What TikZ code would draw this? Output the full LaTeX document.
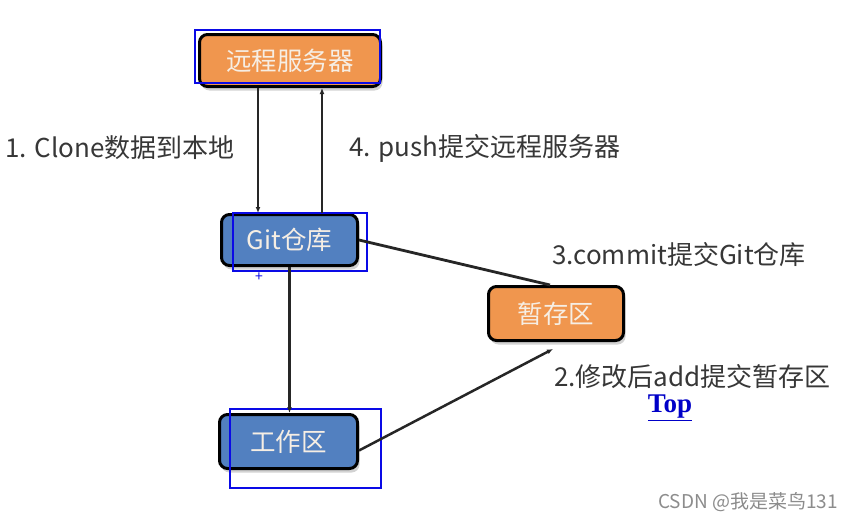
\documentclass[tikz,border=0pt]{standalone}
\usepackage{fontspec}
\setmainfont{Noto Sans CJK SC}
\newfontfamily\topfont{Liberation Serif}
\usetikzlibrary{arrows.meta,shadows}
\definecolor{boxorange}{RGB}{240,150,78}
\definecolor{boxblue}{RGB}{82,128,192}
\definecolor{labgray}{RGB}{55,55,55}
\definecolor{boxtext}{RGB}{246,238,228}
\definecolor{hlblue}{RGB}{10,10,230}
\definecolor{linkblue}{RGB}{0,0,200}
\tikzset{
  stagebox/.style={draw=black, line width=3pt, rounded corners=8pt, inner sep=0pt,
    text=boxtext, font=\fontsize{25.5}{28}\selectfont,
    drop shadow={shadow xshift=2pt, shadow yshift=-4pt, opacity=0.35, fill=gray}},
  orangebox/.style={stagebox, fill=boxorange},
  bluebox/.style={stagebox, fill=boxblue},
  hlbox/.style={draw=hlblue, line width=2pt, inner sep=0pt, fill=none},
  lab/.style={anchor=west, inner sep=0pt, text=labgray, font=\fontsize{26}{28}\selectfont},
  conn/.style={draw=black!85, line width=2.2pt},
  arr/.style={conn, -{Latex[length=6pt,width=5pt]}}
}
\begin{document}
\begin{tikzpicture}[x=1pt,y=-1pt]
\useasboundingbox[fill=white] (0,0) rectangle (855,522);
% stage boxes
\node[orangebox, minimum width=181pt, minimum height=52pt] (server) at (290,60.5) {远程服务器};
\node[bluebox, minimum width=136pt, minimum height=51pt] (git) at (289.5,240) {Git仓库};
\node[orangebox, minimum width=135pt, minimum height=54pt] (stage) at (556,313.5) {暂存区};
\node[bluebox, minimum width=138pt, minimum height=54pt] (work) at (288.5,441.5) {工作区};
% highlight rectangles
\node[hlbox, minimum width=185pt, minimum height=53pt] (hlserver) at (287.5,56.5) {};
\node[hlbox, minimum width=134pt, minimum height=58pt] (hlgit) at (300,242) {};
\node[hlbox, minimum width=151pt, minimum height=79pt] (hlwork) at (305.5,448.5) {};
% connectors
\draw[arr] ([xshift=-32pt]server.south) -- ([xshift=-31.5pt]git.north);
\draw[arr] ([xshift=32.5pt]git.north) -- ([xshift=32pt]server.south);
\draw[arr] (git.south) -- (git.south |- work.north);
\draw[conn, line width=2.8pt] (git.east) -- ([xshift=-6pt]stage.north);
\draw[arr, line width=2.5pt] ([yshift=-9pt]work.east) -- ([xshift=-3pt,yshift=-7pt]stage.south);
% labels
\node[lab] (l1) at (5,148) {1. Clone数据到本地};
\node[lab] (l4) at (349,148) {4. push提交远程服务器};
\node[lab] (l3) at (552,255) {3.commit提交Git仓库};
\node[lab] (l2) at (554,377) {2.修改后add提交暂存区};
\node[inner sep=0pt, text=linkblue, font=\topfont\bfseries\fontsize{27}{30}\selectfont] (top) at (670,408) {\underline{Top}};
\node[anchor=east, inner sep=0pt, text=black!45, font=\fontsize{19}{22}\selectfont] (csdn) at (838,502) {CSDN @我是菜鸟131};
% small cursor mark
\node[inner sep=0pt, text=hlblue, font=\fontsize{14}{14}\selectfont] (plus) at (259,277) {+};
\end{tikzpicture}
\end{document}
